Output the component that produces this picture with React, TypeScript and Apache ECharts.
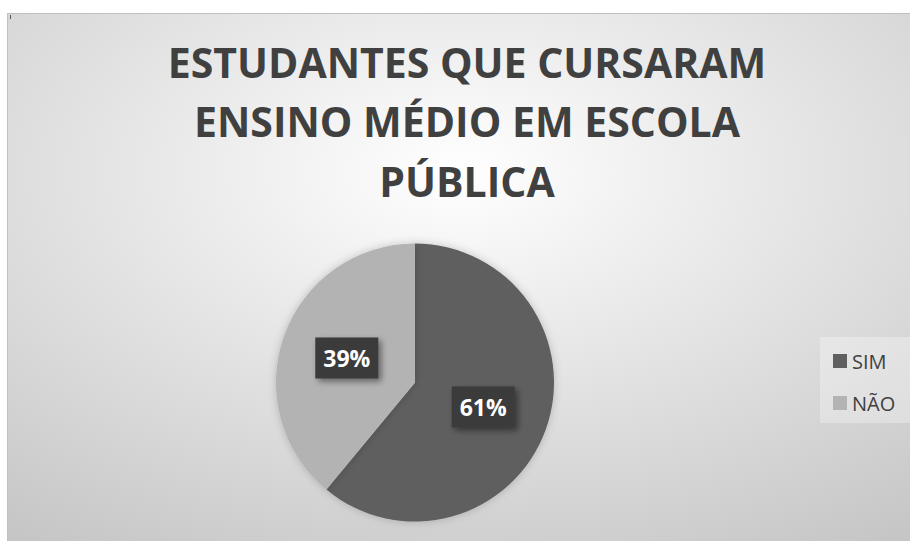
import React, { useEffect, useRef } from "react";
import * as echarts from "echarts";

const TITLE_LINES = ["ESTUDANTES QUE CURSARAM", "ENSINO MÉDIO EM ESCOLA", "PÚBLICA"];
const CATEGORIES = ["SIM", "NÃO"];
const VALUES = [61, 39];
const COLORS = ["#5f5f5f", "#b3b3b3"];

export default function App() {
  const ref = useRef<HTMLDivElement>(null);
  useEffect(() => {
    if (!ref.current) return;
    const chart = echarts.init(ref.current, undefined, { renderer: "svg" });
    chart.setOption({
      animation: false,
      backgroundColor: {
        type: "radial",
        x: 0.5,
        y: 0.3,
        r: 0.9,
        colorStops: [
          { offset: 0, color: "#ffffff" },
          { offset: 1, color: "#c2c2c2" },
        ],
      },
      title: {
        text: TITLE_LINES.join("\n"),
        left: 459,
        textAlign: "center",
        top: 18,
        padding: 0,
        textStyle: {
          fontFamily: "Open Sans",
          fontWeight: "bold",
          fontSize: 41,
          lineHeight: 59.5,
          color: "#404040",
        },
      },
      legend: {
        orient: "vertical",
        left: 812,
        top: 323,
        padding: [14, 20, 10, 13],
        itemWidth: 14,
        itemHeight: 14,
        itemGap: 22,
        icon: "rect",
        backgroundColor: "rgba(255,255,255,0.3)",
        textStyle: { fontFamily: "Open Sans", fontSize: 20, color: "#404040" },
        data: CATEGORIES,
      },
      graphic: [
        { type: "rect", shape: { x: 2, y: 1, width: 1, height: 4 }, style: { fill: "#555" } },
      ],
      series: [
        {
          type: "pie",
          center: [407, 368.5],
          radius: [0, 139],
          startAngle: 90,
          clockwise: true,
          label: {
            show: true,
            position: "inside",
            formatter: (p: any) => `${Math.round(p.percent)}%`,
            fontFamily: "Open Sans",
            fontWeight: "bold",
            fontSize: 23,
            lineHeight: 22,
            color: "#ffffff",
            backgroundColor: "#3b3b3b",
            padding: [9.5, 8, 9.5, 8],
            shadowColor: "rgba(0,0,0,0.45)",
            shadowBlur: 6,
            shadowOffsetX: 3,
            shadowOffsetY: 3,
          },
          labelLine: { show: false },
          itemStyle: {
            shadowColor: "rgba(0,0,0,0.2)",
            shadowBlur: 8,
          },
          emphasis: { disabled: true },
          data: CATEGORIES.map((c, i) => ({ name: c, value: VALUES[i], itemStyle: { color: COLORS[i] } })),
        },
      ],
    });
    return () => chart.dispose();
  }, []);
  return (
    <div
      style={{
        position: "absolute",
        left: 7,
        top: 13,
        width: 903,
        height: 528,
        borderTop: "1px solid #c0c0c0",
        borderLeft: "1px solid #c0c0c0",
        boxSizing: "border-box",
      }}
    >
      <div ref={ref} style={{ width: 902, height: 527 }} />
    </div>
  );
}
